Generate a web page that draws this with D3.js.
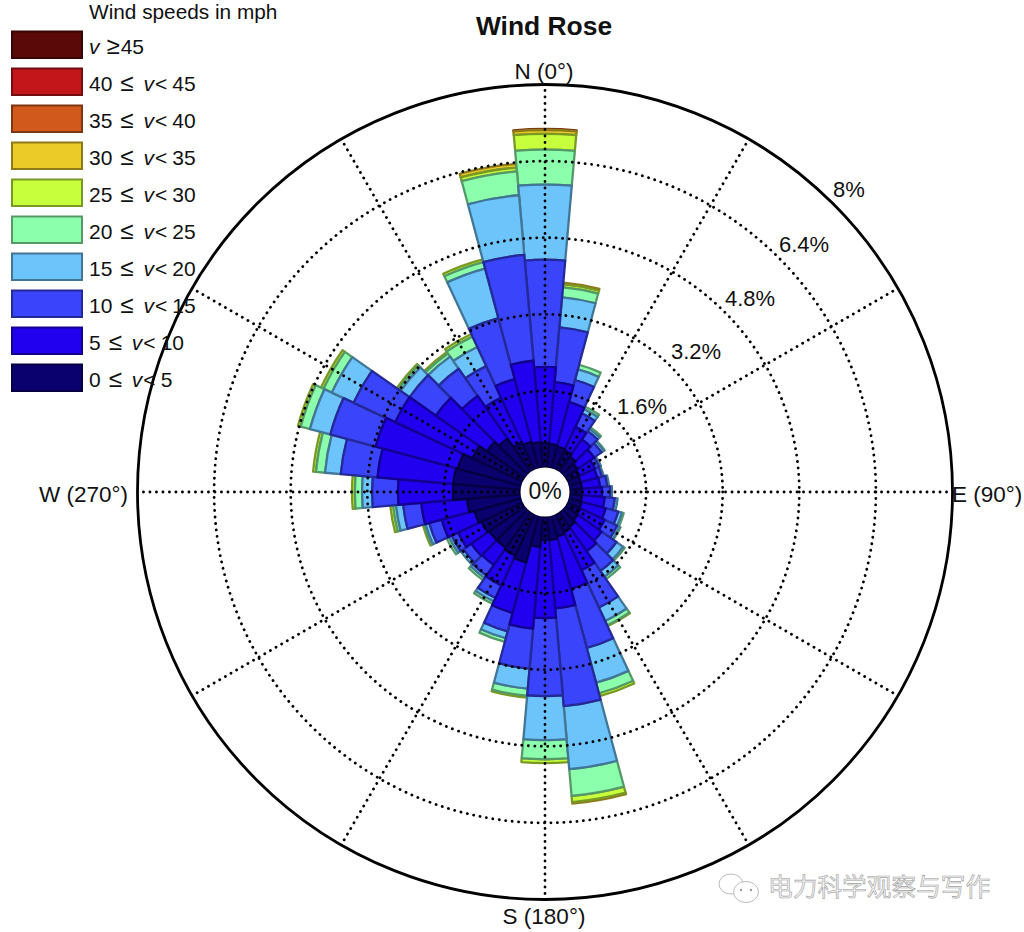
<!DOCTYPE html>
<html lang="en">
<head>
<meta charset="UTF-8">
<title>Wind Rose</title>
<script src="https://cdnjs.cloudflare.com/ajax/libs/d3/7.8.5/d3.min.js"></script>
<style>
    body { margin: 0; background: #fff; }
    text { font-family: "Liberation Sans", Arial, sans-serif; fill: #111; }
</style>
</head>
<body>
<script>
    // wind direction of each sector, degrees clockwise from north
    const directions = [0,10,20,30,40,50,60,70,80,90,100,110,120,130,140,150,160,170,180,190,200,210,220,230,240,250,260,270,280,290,300,310,320,330,340,350];

    // share of the time (%) per speed class, one value per direction
    const v0to5   = [.51,.49,.47,.45,.39,.32,.28,.26,.26,.26,.26,.28,.30,.32,.37,.41,.45,.49,.49,.64,1.01,.95,.91,.91,.95,1.01,1.12,1.41,1.41,1.37,1.16,.97,.85,.64,.57,.53];
    const v5to10  = [1.59,1.30,.96,.54,.44,.42,.36,.36,.38,.42,.48,.52,.56,.61,.63,.88,1.13,1.44,1.63,1.71,1.09,.69,.44,.46,.54,.71,.96,1.15,1.59,1.78,1.78,1.30,1.09,1.02,1.36,1.71];
    const v10to15 = [2.24,1.15,.48,.31,.21,.19,.10,.10,.15,.17,.21,.27,.29,.38,.50,.86,1.28,2.05,1.63,.84,.40,.29,.27,.20,.15,.27,.38,.54,.77,.98,.96,.67,.69,.73,1.32,2.22];
    const v15to20 = [1.57,.63,.23,.10,.06,.06,.04,.04,.04,.04,.06,.08,.06,.17,.15,.31,.75,1.32,.92,.42,.15,.08,.06,.07,.06,.08,.15,.21,.33,.44,.50,.23,.31,.44,1.07,1.25];
    const v20to25 = [.73,.21,.10,.06,.04,.02,0,0,0,0,0,.04,.02,.04,.06,.10,.23,.56,.40,.15,.08,.06,.06,0,.06,.03,.06,.15,.19,.20,.19,.06,.08,.24,.14,.50];
    const v25to30 = [.33,.06,0,0,0,0,0,0,0,0,0,0,0,0,0,.02,.06,.13,.08,.04,0,0,0,0,0,.03,.06,.06,.06,.06,.06,.04,.04,.06,.06,.08];
    const v30to35 = [.08,.04,0,0,0,0,0,0,0,0,0,0,0,0,0,0,0,.03,0,0,0,0,0,0,0,0,0,0,0,0,0,0,0,0,0,.08];
    const v35to40 = [.02,0,0,0,0,0,0,0,0,0,0,0,0,0,0,0,0,0,0,0,0,0,0,0,0,0,0,0,0,0,0,0,0,0,0,0];
    const v40to45 = [0,0,0,0,0,0,0,0,0,0,0,0,0,0,0,0,0,0,0,0,0,0,0,0,0,0,0,0,0,0,0,0,0,0,0,0];
    const v45up   = [0,0,0,0,0,0,0,0,0,0,0,0,0,0,0,0,0,0,0,0,0,0,0,0,0,0,0,0,0,0,0,0,0,0,0,0];

    const series = [v0to5,v5to10,v10to15,v15to20,v20to25,v25to30,v30to35,v35to40,v40to45,v45up];
    const binStart = [0,5,10,15,20,25,30,35,40,45];
    const binColors = ['#0a006e','#2000ee','#3a44fb','#6cc4fb','#8cffac','#c8ff3c','#ebcb28','#d2591c','#c2161a','#5a0808'];

    const ringTicks = [1.6,3.2,4.8,6.4,8];
    const ringLabels = ['1.6%','3.2%','4.8%','6.4%','8%'];
    const spokeAngles = [0,30,60,90,120,150,180,210,240,270,300,330];

    const cx = 545, cy = 492;
    const bw = 10;  // sector width in degrees

    let svg = d3.select('body').append('svg')
        .attr('width',1024)
        .attr('height',932)
        .attr('viewBox','0 0 1024 932');

    let rScale = d3.scaleLinear().domain([0,8]).range([24.5,407.5]);
    let aScale = d3.scaleLinear().domain([0,360]).range([0,2*Math.PI]);
    let edge = c => d3.interpolateRgb(c,'#000')(0.4);

    let arc = d3.arc()
        .innerRadius(d => rScale(d.from))
        .outerRadius(d => rScale(d.to))
        .startAngle(d => aScale(d.dir-bw/2))
        .endAngle(d => aScale(d.dir+bw/2));

    // stack the classes per direction
    let sectors = [];
    directions.forEach(function(dir,i){
        let sum = 0;
        series.forEach(function(s,b){
            if (s[i] > 0) sectors.push({dir:dir,bin:b,from:sum,to:sum+s[i]});
            sum += s[i];
        });
    });
    // outer classes first so the inner edges stay on top
    sectors.sort((a,b) => b.bin-a.bin);

    let plot = svg.append('g').attr('transform','translate('+cx+','+cy+')');

    plot.selectAll('path.sector').data(sectors)
        .enter()
        .append('path')
        .attr('class','sector')
        .attr('d',arc)
        .attr('fill',d => binColors[d.bin])
        .attr('stroke',d => edge(binColors[d.bin]))
        .attr('stroke-width',2.3)
        .attr('stroke-linejoin','round');

    // dotted grid sits above the bars
    plot.selectAll('line.spoke').data(spokeAngles)
        .enter()
        .append('line')
        .attr('class','spoke')
        .attr('x1',d => rScale(0)*Math.sin(aScale(d)))
        .attr('y1',d => -rScale(0)*Math.cos(aScale(d)))
        .attr('x2',d => rScale(8)*Math.sin(aScale(d)))
        .attr('y2',d => -rScale(8)*Math.cos(aScale(d)))
        .attr('stroke','#000')
        .attr('stroke-width',2.8)
        .attr('stroke-linecap','round')
        .attr('stroke-dasharray','0.1 6.4');

    plot.selectAll('circle.ring').data(ringTicks.slice(0,4))
        .enter()
        .append('circle')
        .attr('class','ring')
        .attr('r',d => rScale(d))
        .attr('fill','none')
        .attr('stroke','#000')
        .attr('stroke-width',2.8)
        .attr('stroke-linecap','round')
        .attr('stroke-dasharray','0.1 6.4');

    plot.append('circle')
        .attr('r',rScale(8))
        .attr('fill','none')
        .attr('stroke','#000')
        .attr('stroke-width',2.8);

    plot.append('circle')
        .attr('r',rScale(0))
        .attr('fill','#fff');

    plot.append('text')
        .attr('y',7)
        .attr('text-anchor','middle')
        .style('font-size','23px')
        .text('0%');

    // ring labels run along the 60 degree spoke
    plot.selectAll('text.ringlabel').data(ringTicks)
        .enter()
        .append('text')
        .attr('class','ringlabel')
        .attr('x',(d,i) => [97,151,205,259,304][i])
        .attr('y',(d,i) => [-78,-133,-186,-240,-295][i])
        .attr('text-anchor','middle')
        .style('font-size','22px')
        .text((d,i) => ringLabels[i]);

    // compass labels
    let compass = [
        {t:'N (0°)',x:544,y:79,a:'middle'},
        {t:'S (180°)',x:544,y:924,a:'middle'},
        {t:'W (270°)',x:128,y:502,a:'end'},
        {t:'E (90°)',x:952,y:502,a:'start'}
    ];
    svg.selectAll('text.compass').data(compass)
        .enter()
        .append('text')
        .attr('class','compass')
        .attr('x',d => d.x)
        .attr('y',d => d.y)
        .attr('text-anchor',d => d.a)
        .style('font-size','22.5px')
        .text(d => d.t);

    svg.append('text')
        .attr('x',544)
        .attr('y',35)
        .attr('text-anchor','middle')
        .style('font-size','26.4px')
        .style('font-weight','bold')
        .text('Wind Rose');

    // legend, highest class on top
    svg.append('text')
        .attr('x',89)
        .attr('y',19)
        .style('font-size','20.8px')
        .text('Wind speeds in mph');

    let legendRows = binStart.map((s,i) => i).reverse();
    let legY = d3.scaleBand().domain(legendRows).range([30,400]);
    let rows = svg.selectAll('g.legend').data(legendRows)
        .enter()
        .append('g')
        .attr('class','legend')
        .attr('transform',d => 'translate(0,'+legY(d)+')');

    rows.append('rect')
        .attr('x',12)
        .attr('y',1.5)
        .attr('width',70)
        .attr('height',26.5)
        .attr('fill',d => binColors[d])
        .attr('stroke',d => edge(binColors[d]))
        .attr('stroke-width',2);

    let labels = rows.append('text')
        .attr('x',89)
        .attr('y',24)
        .style('font-size','21px');
    labels.each(function(d){
        let t = d3.select(this);
        if (d === 9) {
            t.append('tspan').style('font-style','italic').text('v');
            t.append('tspan').attr('dx',7).style('font-size','24px').text('\u2265');
            t.append('tspan').attr('dx',1).text(binStart[d]);
        } else {
            t.append('tspan').text(binStart[d]);
            t.append('tspan').attr('dx',8).style('font-size','24px').text('\u2264');
            t.append('tspan').attr('dx',10).style('font-style','italic').text('v');
            t.append('tspan').attr('dx',1).text('<');
            t.append('tspan').attr('dx',5).text(binStart[d+1]);
        }
    });

    // watermark
    let mark = svg.append('g').attr('fill','none').attr('stroke','#bbb').attr('stroke-width',1);
    mark.append('ellipse').attr('cx',731).attr('cy',884).attr('rx',12).attr('ry',10);
    mark.append('ellipse').attr('cx',746).attr('cy',892).attr('rx',12.5).attr('ry',10.5).attr('fill','#fff');
    mark.selectAll('circle').data([[741,890],[751,890]]).enter().append('circle')
        .attr('cx',d => d[0]).attr('cy',d => d[1]).attr('r',1.2).attr('fill','#999').attr('stroke','none');

    svg.append('text')
        .attr('x',768)
        .attr('y',896)
        .style('font-family','"Noto Sans CJK SC"')
        .style('font-size','24.7px')
        .style('fill','#f4f4f4')
        .style('stroke','#a0a0a0')
        .style('stroke-width',0.6)
        .text('电力科学观察与写作');
</script>
</body>
</html>
